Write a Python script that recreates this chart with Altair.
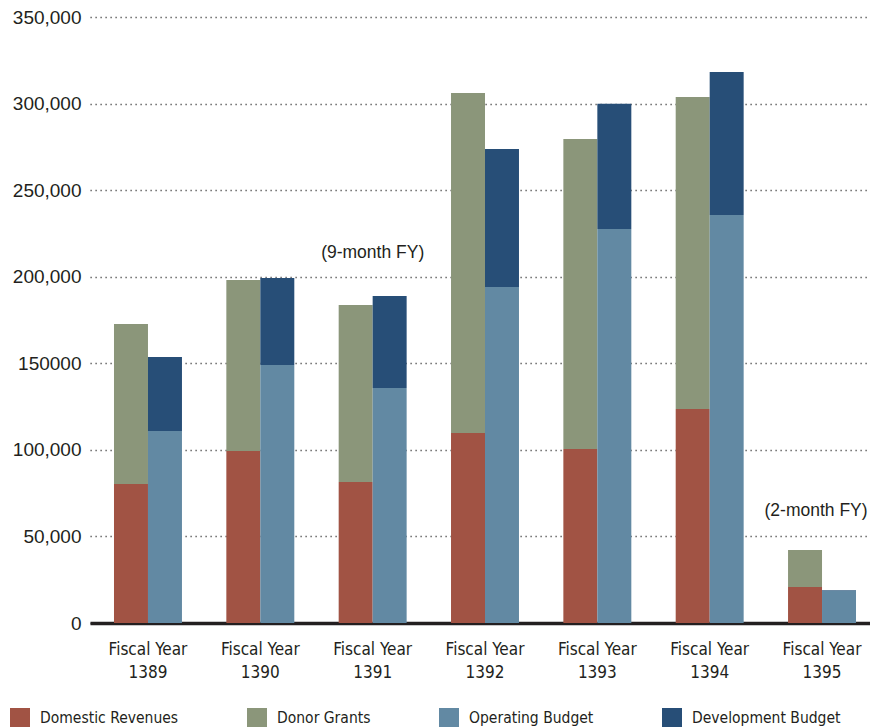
import altair as alt
import pandas as pd

years = ["1389", "1390", "1391", "1392", "1393", "1394", "1395"]
domestic_revenues = [80300, 99300, 81400, 109700, 100500, 123600, 20800]
donor_grants = [92400, 98800, 102300, 196400, 179000, 180200, 21400]
operating_budget = [110900, 149000, 135700, 194100, 227600, 235600, 18700]
development_budget = [42700, 50300, 53200, 79700, 72300, 82600, 400]

categories = ["Domestic Revenues", "Donor Grants", "Operating Budget", "Development Budget"]
groups = ["Revenue", "Revenue", "Budget", "Budget"]
stack_pos = [0, 1, 0, 1]
colors = ["#A15344", "#8B967A", "#6289A3", "#274E77"]

note_years = ["1391", "1395"]
note_texts = ["(9-month FY)", "(2-month FY)"]
note_values = [213500, 64700]

series = [domestic_revenues, donor_grants, operating_budget, development_budget]
rows = []
for ci, cat in enumerate(categories):
    for yi, yr in enumerate(years):
        rows.append({"year": yr, "category": cat, "group": groups[ci],
                     "pos": stack_pos[ci], "value": series[ci][yi]})
df = pd.DataFrame(rows)
notes = pd.DataFrame({"year": note_years, "note": note_texts, "value": note_values})

NARROW = "DejaVu Sans Condensed, Liberation Sans Narrow, Roboto, sans-serif"
REG = "Liberation Sans, Arial, sans-serif"

xscale = alt.Scale(domain=years, range=[0, 790], paddingInner=0.395, paddingOuter=0.2136)

bars = alt.Chart(df).mark_bar(stroke=None).encode(
    x=alt.X("year:N", scale=xscale, sort=years,
            axis=alt.Axis(title=None, labelAngle=0, ticks=False, domain=True,
                          domainColor="#231f20", domainWidth=3.5,
                          labelExpr="['Fiscal Year', datum.label]",
                          labelFont=NARROW, labelFontSize=17, labelColor="#231f20",
                          labelLineHeight=23, labelPadding=18, labelBaseline="top",
                          grid=False)),
    xOffset=alt.XOffset("group:N", sort=["Revenue", "Budget"],
                        scale=alt.Scale(paddingInner=0, paddingOuter=0)),
    y=alt.Y("value:Q", stack="zero",
            scale=alt.Scale(domain=[0, 350000], nice=False),
            axis=alt.Axis(title=None, values=[0, 50000, 100000, 150000, 200000, 250000, 300000, 350000],
                          labelExpr="datum.value == 150000 ? '150000' : format(datum.value, ',')",
                          ticks=False, domain=False, labelPadding=9,
                          labelFont=REG, labelFontSize=19, labelColor="#231f20",
                          grid=True, gridDash=[1.2, 3.8], gridColor="#444444", gridWidth=1.5)),
    color=alt.Color("category:N", scale=alt.Scale(domain=categories, range=colors),
                    legend=alt.Legend(title=None, orient="none", direction="horizontal",
                                      legendX=-80, legendY=691, padding=0,
                                      symbolType="square", symbolSize=400,
                                      symbolStrokeWidth=0, symbolOpacity=1,
                                      labelFont=NARROW, labelFontSize=15.5,
                                      labelColor="#231f20", labelOffset=10,
                                      labelLimit=400, columnPadding=68)),
    order=alt.Order("pos:Q", sort="ascending"),
)

note_base = alt.Chart(notes).encode(
    x=alt.X("year:N", scale=xscale, sort=years),
    y=alt.Y("value:Q"),
    text="note:N",
)
note1 = note_base.transform_filter(alt.datum.year == note_years[0]).mark_text(
    font=REG, fontSize=17.5, color="#231f20", baseline="middle")
note2 = note_base.transform_filter(alt.datum.year == note_years[1]).mark_text(
    font=REG, fontSize=17.5, color="#231f20", baseline="middle", dx=-6)

chart = alt.layer(bars, note1, note2).properties(
    width=780, height=606,
    background="white",
    autosize=alt.AutoSizeParams(type="none"),
    padding={"left": 82, "top": 9, "right": 0, "bottom": 104},
).configure_view(strokeWidth=0, stroke="transparent")

chart.save("out.html", embed_options={"renderer": "svg", "actions": False})
